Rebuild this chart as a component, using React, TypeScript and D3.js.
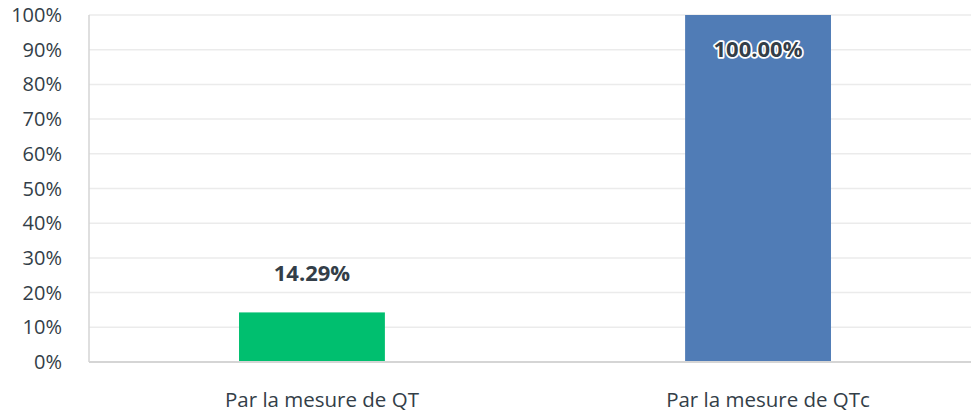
import React from "react";
import * as d3 from "d3";

const categories = ["Par la mesure de QT", "Par la mesure de QTc"];
const values = [14.29, 100.0];
const barColors = ["#00bf6f", "#507cb6"];
const yTicks = [0, 10, 20, 30, 40, 50, 60, 70, 80, 90, 100];

export default function App() {
  const W = 971, H = 416;
  const left = 89, right = 981, top = 15, bottom = 362;
  const x = d3.scaleBand<string>().domain(categories).range([left, right]).paddingInner(0.673).paddingOuter(0.3363);
  const y = d3.scaleLinear().domain([0, 100]).range([bottom, top]);
  const font = "'Open Sans', 'Noto Sans', sans-serif";
  const textColor = "#333e48";
  return (
    <svg width={W} height={H} style={{ position: "absolute", left: 0, top: 0, background: "#fff" }} fontFamily={font}>
      {yTicks.map((t) => (
        <g key={t}>
          {t > 0 && <line x1={left} x2={right} y1={y(t)} y2={y(t)} stroke="#ebebeb" strokeWidth={1.5} />}
          <text x={62} y={y(t)} dy="0.35em" textAnchor="end" fontSize={20} fill={textColor}>{t}%</text>
        </g>
      ))}
      <line x1={left} x2={left} y1={top} y2={bottom} stroke="#d5d5d5" strokeWidth={1.5} />
      {categories.map((c, i) => {
        const bx = x(c)!;
        const bw = x.bandwidth();
        const v = values[i];
        const inside = v > 90;
        return (
          <g key={c}>
            <rect x={bx} y={y(v)} width={bw} height={bottom - y(v)} fill={barColors[i]} />
            <text
              x={bx + bw / 2}
              y={inside ? y(v) + 34 : y(v) - 39}
              dy="0.35em"
              textAnchor="middle"
              fontSize={22}
              fontWeight={700}
              fill={textColor}
              stroke={inside ? "#fff" : "none"}
              strokeWidth={inside ? 3.5 : 0}
              paintOrder="stroke"
              strokeLinejoin="round"
            >
              {v.toFixed(2)}%
            </text>
            <text x={bx + bw / 2 + 10} y={400} dy="0.35em" textAnchor="middle" fontSize={20.5} fill={textColor}>{c}</text>
          </g>
        );
      })}
      <line x1={left} x2={right} y1={bottom} y2={bottom} stroke="#d5d5d5" strokeWidth={2} />
    </svg>
  );
}
